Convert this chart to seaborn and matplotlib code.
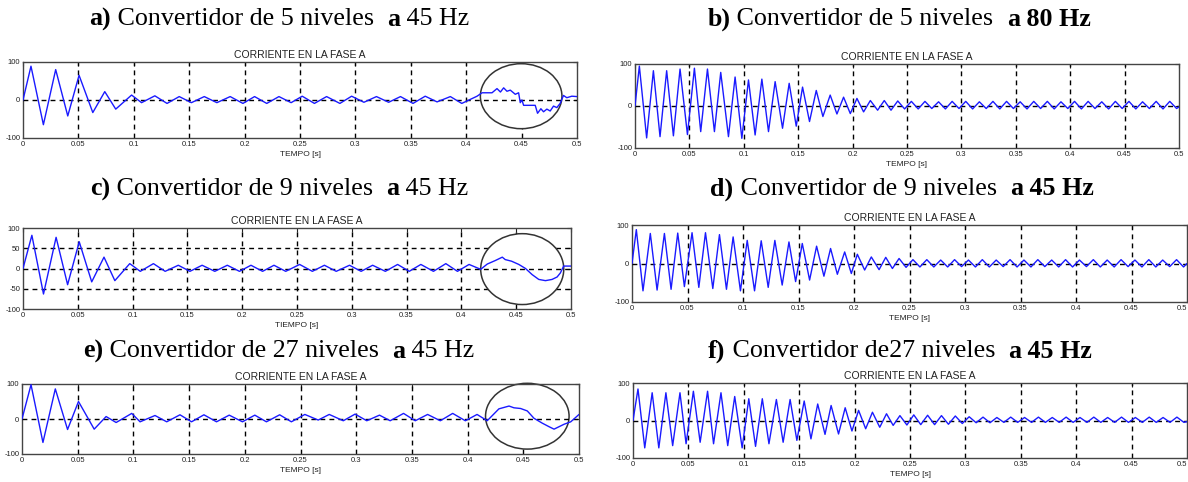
import numpy as np
import pandas as pd
import matplotlib
matplotlib.use("Agg")
import matplotlib.pyplot as plt
from matplotlib.patches import Ellipse
from matplotlib.ticker import FuncFormatter
import seaborn as sns

# ---------------- data ----------------
a_time = [0, 0.0072, 0.0184, 0.0295, 0.0404, 0.0506, 0.063, 0.0738, 0.0837, 0.098,
          0.107, 0.119, 0.130, 0.141, 0.152, 0.1636, 0.175, 0.187, 0.1985, 0.209,
          0.220, 0.231, 0.242, 0.252, 0.263, 0.274, 0.286, 0.2966, 0.3077, 0.319,
          0.330, 0.3407, 0.352, 0.363, 0.3737, 0.3857, 0.396, 0.4098, 0.4143, 0.4233,
          0.4278, 0.4309, 0.4338, 0.4368, 0.4398, 0.4443, 0.4473, 0.4488, 0.4503, 0.4518,
          0.4623, 0.4644, 0.4674, 0.4698, 0.4728, 0.4758, 0.4788, 0.4818, 0.4848, 0.4878,
          0.4908, 0.4953, 0.5]
a_current = [0, 89, -65, 80, -42, 65, -33, 22, -24, 13,
             -7, 11, -9, 9, -7, 9, -7, 9, -9, 9,
             -9, 9, -7, 10, -9, 9, -9, 10, -6, 9,
             -6, 9, -9, 10, -5, 9, -9, 10, 19, 19,
             30, 21, 32, 23, 26, 15, 19, -7, 0, -14,
             -14, -35, -23, -31, -24, -29, -16, -20, -9, 12,
             6, 10, 9]

b_time = [0, 0.004, 0.0107, 0.0169, 0.023, 0.0291, 0.0353, 0.0414, 0.0482, 0.0546,
          0.0604, 0.0666, 0.073, 0.0788, 0.0859, 0.092, 0.0982, 0.1043, 0.1104, 0.1166,
          0.1227, 0.1288, 0.1356, 0.1417, 0.1482, 0.154, 0.1604, 0.1666, 0.1727, 0.1794,
          0.1856, 0.1917, 0.1979, 0.204, 0.2101, 0.2163, 0.223, 0.2291, 0.2353,
          0.2415, 0.2478, 0.254, 0.2603, 0.2665, 0.2728, 0.279, 0.2853, 0.2915, 0.2978,
          0.304, 0.3103, 0.3165, 0.3228, 0.329, 0.3353, 0.3415, 0.3478, 0.354, 0.3603,
          0.3665, 0.3728, 0.379, 0.3853, 0.3915, 0.3978, 0.404, 0.4103, 0.4165, 0.4228,
          0.429, 0.4353, 0.4415, 0.4478, 0.454, 0.4603, 0.4665, 0.4728, 0.479, 0.4853,
          0.4915, 0.4978, 0.5]
b_current = [0, 95, -76, 84, -73, 84, -71, 88, -68, 90,
             -61, 88, -61, 80, -73, 69, -77, 62, -69, 64,
             -61, 58, -53, 54, -48, 45, -37, 37, -25, 26,
             -19, 21, -18, 18, -14, 13, -10, 13, -10,
             12, -7, 11, -7, 11, -6, 10, -7, 11, -6,
             11, -7, 10, -6, 11, -7, 11, -6, 10, -7,
             11, -6, 11, -7, 10, -6, 11, -7, 11, -6,
             10, -7, 11, -6, 11, -7, 10, -6, 11, -7,
             11, -6, -2]

c_time = [0, 0.0081, 0.0187, 0.0302, 0.0407, 0.0513, 0.0627, 0.0739, 0.0838, 0.0974,
          0.107, 0.119, 0.1297, 0.1417, 0.1523, 0.1634, 0.175, 0.1864, 0.1975, 0.208,
          0.2186, 0.229, 0.2397, 0.2524, 0.264, 0.275, 0.2858, 0.2979, 0.3085, 0.319,
          0.3306, 0.3418, 0.3524, 0.363, 0.3745, 0.3858, 0.3964, 0.407, 0.4176, 0.4236,
          0.4312, 0.4373, 0.44, 0.4458, 0.4524, 0.4585, 0.4645, 0.4706, 0.4767, 0.4827,
          0.4873, 0.4903, 0.4933, 0.5]
c_current = [0, 82, -63, 77, -40, 66, -33, 28, -30, 12,
             -7, 12, -7, 8, -7, 8, -7, 8, -7, 8,
             -7, 8, -7, 10, -7, 8, -7, 8, -7, 8,
             -7, 10, -7, 10, -7, 12, -7, 10, -2, 11,
             20, 28, 22, 18, 10, 0, -15, -27, -30, -27,
             -21, -11, 6, 6]

d_time = [0, 0.0039, 0.0099, 0.0165, 0.0226, 0.0292, 0.0352, 0.0412, 0.0472, 0.0541,
          0.0602, 0.0662, 0.0728, 0.0788, 0.0851, 0.0911, 0.0977, 0.1038, 0.1104, 0.1164,
          0.1227, 0.1287, 0.1353, 0.1414, 0.1474, 0.1534, 0.16, 0.1663, 0.1729, 0.1789,
          0.185, 0.1916, 0.1976, 0.203, 0.2096, 0.2156, 0.2226, 0.2286, 0.2346, 0.2406,
          0.2469, 0.2531, 0.2594, 0.2656, 0.2719, 0.2781, 0.2844, 0.2906, 0.2969, 0.3031,
          0.3094, 0.3156, 0.3219, 0.3281, 0.3344, 0.3406, 0.3469, 0.3531, 0.3594, 0.3656,
          0.3719, 0.3781, 0.3844, 0.3906, 0.3969, 0.4031, 0.4094, 0.4156, 0.4219, 0.4281,
          0.4344, 0.4406, 0.4469, 0.4531, 0.4594, 0.4656, 0.4719, 0.4781, 0.4844, 0.4906,
          0.4969, 0.5]
d_current = [0, 88, -71, 78, -69, 78, -67, 79, -60, 80,
             -62, 80, -65, 75, -67, 69, -71, 60, -71, 59,
             -62, 60, -56, 56, -47, 52, -43, 45, -33, 39,
             -28, 30, -26, 24, -17, 17, -16, 16, -13, 13,
             -10, 10, -9, 10, -9, 9, -9, 10, -8, 9,
             -9, 10, -9, 9, -8, 10, -9, 9, -9, 10,
             -8, 9, -9, 10, -9, 9, -8, 10, -9, 9,
             -9, 10, -8, 9, -9, 10, -9, 9, -8, 10,
             -9, 0]

e_time = [0, 0.0081, 0.0188, 0.0299, 0.0409, 0.0507, 0.0648, 0.0755, 0.0845, 0.0985,
          0.106, 0.1194, 0.1299, 0.1418, 0.1522, 0.1633, 0.1746, 0.186, 0.1979, 0.209,
          0.2194, 0.2313, 0.2418, 0.2539, 0.2659, 0.2758, 0.2884, 0.299, 0.3095, 0.3209,
          0.3305, 0.3425, 0.353, 0.3641, 0.3755, 0.3866, 0.398, 0.4085, 0.4176, 0.4281,
          0.4372, 0.4416, 0.4476, 0.4536, 0.4596, 0.4671, 0.4731, 0.4776, 0.4821, 0.4866,
          0.4926, 0.5]
e_current = [0, 98, -67, 86, -30, 50, -29, 7, -10, 16,
             -8, 10, -8, 12, -8, 12, -8, 11, -8, 11,
             -8, 12, -8, 13, -3, 13, -5, 14, -5, 11,
             -5, 16, -5, 13, -5, 16, -5, 13, -5, 29,
             37, 32, 30, 23, 2, -12, -22, -29, -22, -15,
             -8, 13]

f_time = [0, 0.0045, 0.0106, 0.0173, 0.0233, 0.0297, 0.0358, 0.0424, 0.0479, 0.0545,
          0.0606, 0.0673, 0.0727, 0.0794, 0.0855, 0.0918, 0.0985, 0.1045, 0.1106, 0.1167,
          0.1227, 0.1294, 0.1355, 0.1418, 0.1479, 0.1545, 0.1606, 0.1667, 0.1733, 0.1788,
          0.1855, 0.1915, 0.1976, 0.2036, 0.21, 0.2161, 0.2227, 0.2288, 0.2348, 0.2409,
          0.2472, 0.2534, 0.2597, 0.2659, 0.2722, 0.2784, 0.2847, 0.2909, 0.2972, 0.3034,
          0.3097, 0.3159, 0.3222, 0.3284, 0.3347, 0.3409, 0.3472, 0.3534, 0.3597, 0.3659,
          0.3722, 0.3784, 0.3847, 0.3909, 0.3972, 0.4034, 0.4097, 0.4159, 0.4222, 0.4284,
          0.4347, 0.4409, 0.4472, 0.4534, 0.4597, 0.4659, 0.4722, 0.4784, 0.4847, 0.4909,
          0.4972, 0.5]
f_current = [0, 84, -73, 74, -73, 74, -67, 74, -62, 78,
             -58, 78, -62, 74, -67, 64, -73, 58, -69, 58,
             -62, 56, -58, 56, -53, 52, -49, 44, -37, 40,
             -36, 34, -28, 27, -22, 22, -18, 18, -13, 13,
             -12, 15, -11, 14, -11, 13, -10, 12, -8, 10,
             -6, 9, -6, 8, -5, 9, -5, 8, -5, 9,
             -5, 8, -5, 9, -5, 8, -5, 9, -5, 8,
             -5, 9, -5, 8, -5, 9, -5, 8, -5, 9,
             -5, -3]

x_ticks = [0, 0.05, 0.1, 0.15, 0.2, 0.25, 0.3, 0.35, 0.4, 0.45, 0.5]
y_ticks_std = [-100, 0, 100]
y_ticks_c = [-100, -50, 0, 50, 100]

panel_titles = {
    "a": [("a)", "bold"), (" Convertidor de 5 niveles  ", "normal"), ("a", "bold"), (" 45 Hz", "normal")],
    "b": [("b)", "bold"), (" Convertidor de 5 niveles  ", "normal"), ("a", "bold"), (" 80 Hz", "bold")],
    "c": [("c)", "bold"), (" Convertidor de 9 niveles  ", "normal"), ("a", "bold"), (" 45 Hz", "normal")],
    "d": [("d)", "bold"), (" Convertidor de 9 niveles  ", "normal"), ("a", "bold"), (" 45 Hz", "bold")],
    "e": [("e)", "bold"), (" Convertidor de 27 niveles  ", "normal"), ("a", "bold"), (" 45 Hz", "normal")],
    "f": [("f)", "bold"), (" Convertidor de27 niveles  ", "normal"), ("a", "bold"), (" 45 Hz", "bold")],
}
sub_title = "CORRIENTE EN LA FASE A"
x_labels = {"a": "TEMPO [s]", "b": "TEMPO [s]", "c": "TIEMPO [s]",
            "d": "TEMPO [s]", "e": "TEMPO [s]", "f": "TEMPO [s]"}

# ---------------- style ----------------
sns.set_style("white")
plt.rcParams["font.family"] = ["Liberation Sans", "DejaVu Sans"]
plt.rcParams["axes.unicode_minus"] = False

W, H = 1188, 482
fig = plt.figure(figsize=(W / 100, H / 100), dpi=100)


def px_box(x0, y0, x1, y1):
    return [x0 / W, 1 - y1 / H, (x1 - x0) / W, (y1 - y0) / H]


layout = {
    # axes box in pixels, title centre (x, y) in pixels
    "a": dict(box=(23, 62, 577, 138), title=(279, 19), yt=y_ticks_std, hg=[0],
              ell=(0.4496, 10, 0.0736, 171)),
    "b": dict(box=(635, 64, 1179, 148), title=(899, 19), yt=y_ticks_std, hg=[0], ell=None),
    "c": dict(box=(23, 228, 571, 309), title=(279, 189), yt=y_ticks_c, hg=[-50, 0, 50],
              ell=(0.4555, -1.5, 0.0758, 175)),
    "d": dict(box=(632, 225, 1187, 302), title=(902, 189), yt=y_ticks_std, hg=[0, 100], ell=None),
    "e": dict(box=(22, 384, 579, 454), title=(279, 351), yt=y_ticks_std, hg=[0],
              ell=(0.4536, 8, 0.075, 188)),
    "f": dict(box=(633, 383, 1187, 458), title=(900, 351), yt=y_ticks_std, hg=[0, 100], ell=None),
}
series = {"a": (a_time, a_current), "b": (b_time, b_current), "c": (c_time, c_current),
          "d": (d_time, d_current), "e": (e_time, e_current), "f": (f_time, f_current)}


def fmt_x(v, pos):
    s = ("%.2f" % v).rstrip("0").rstrip(".")
    return s if s else "0"


renderer = fig.canvas.get_renderer()

for key, cfg in layout.items():
    ax = fig.add_axes(px_box(*cfg["box"]))
    t, v = series[key]
    n = min(len(t), len(v))
    df = pd.DataFrame({"t": t[:n], "i": v[:n]})
    ax.set_xlim(0, 0.5)
    ax.set_ylim(-100, 100)
    # dashed grid
    for xv in x_ticks[1:-1]:
        ax.axvline(xv, color="black", ls=(0, (3.5, 3)), lw=1.0, zorder=1)
    for yv in cfg["hg"]:
        if yv == 0:
            continue
        ax.axhline(yv, color="black", ls=(0, (3.5, 3)), lw=1.2 if yv == 100 else 1.0, zorder=1)
    if cfg["ell"] is not None:
        cx, cy, ew, eh = cfg["ell"]
        ax.add_patch(Ellipse((cx, cy), ew, eh, facecolor="white", edgecolor="#333333",
                             lw=1.1, zorder=2, clip_on=False))
    ax.axhline(0, color="black", ls=(0, (3.5, 3)), lw=1.0, zorder=3)
    sns.lineplot(data=df, x="t", y="i", ax=ax, color="#1a1aff", lw=1.0,
                 sort=False, estimator=None, zorder=4)
    ax.set_xticks(x_ticks)
    ax.set_yticks(cfg["yt"])
    ax.xaxis.set_major_formatter(FuncFormatter(fmt_x))
    ax.tick_params(direction="in", length=3, width=0.8, labelsize=5.5, pad=2,
                   top=True, right=True, colors="#222222", labelcolor="#222222")
    for sp in ax.spines.values():
        sp.set_color("#444444")
        sp.set_linewidth(1.0)
    if cfg["box"][2] > W - 5:
        # keep the last tick label inside the picture
        fig.canvas.draw()
        ax.get_xticklabels()[-1].set_horizontalalignment("right")
    ax.set_xlabel(x_labels[key], fontsize=6, labelpad=2, color="#222222")
    ax.set_ylabel("")
    ax.set_title(sub_title, fontsize=7.5, pad=3, color="#222222")

    # mixed-weight panel title
    tx, ty = cfg["title"]
    pieces = []
    for s, w in panel_titles[key]:
        txt = fig.text(0, 1 - ty / H, s, fontsize=18.7, weight=w, color="black",
                       family=["Liberation Serif", "DejaVu Serif"], va="center", ha="left")
        pieces.append(txt)
    widths = [p.get_window_extent(renderer=renderer).width for p in pieces]
    x = tx - sum(widths) / 2
    for p, wdt in zip(pieces, widths):
        p.set_x(x / W)
        x += wdt

fig.savefig("out.png", dpi=100)
